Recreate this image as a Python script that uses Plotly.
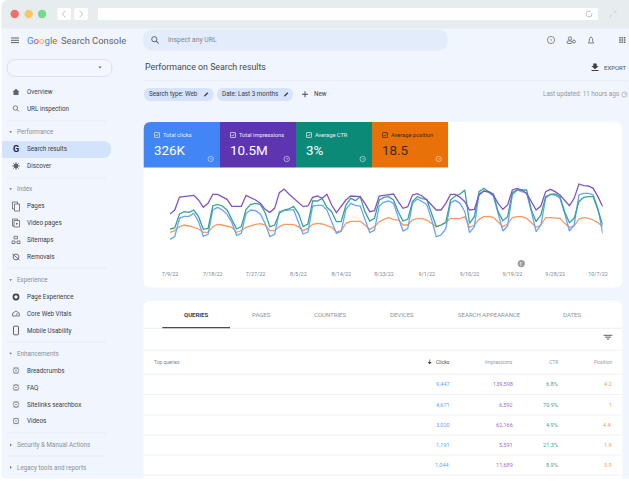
import plotly.graph_objects as go
import pandas as pd

W, H = 629, 481

# ---------- data (indexed daily values) ----------
start_date = "2022-07-09"
clicks = [22,30,85,91,91,100,75, 31,37,110,118,110,97,73, 34,40,100,110,108,98,70,
          30,37,105,108,109,111,73, 38,44,122,124,124,110,75, 40,46,112,130,124,122,80,
          42,49,122,134,137,130,90, 47,54,130,143,134,127,82, 30,35,54,132,139,130,105,
          42,60,158,167,163,152,100, 47,62,155,170,165,160,105, 45,65,145,157,155,145,100,
          47,65,155,160,160,155,115,40]
impressions = [98,110,149,150,152,154,140, 118,130,157,157,150,142,121, 121,121,154,148,140,130,112,
               103,115,162,173,158,145,130, 120,122,148,152,145,157,125, 102,120,140,152,152,150,130,
               105,108,152,154,156,158,135, 115,120,155,159,152,140,125, 110,110,130,157,157,148,135,
               110,112,155,167,165,155,130, 112,125,170,175,170,160,135, 110,122,165,172,165,155,140,
               123,145,188,183,182,175,150,120]
ctr = [53,56,98,105,103,110,90, 52,55,122,127,122,110,80, 53,60,112,127,130,127,102,
       60,65,100,110,113,121,100, 60,68,137,137,145,118,105, 75,75,125,145,138,150,105,
       77,85,140,148,150,140,105, 77,82,135,150,144,142,100, 60,65,73,140,152,158,170,
       70,90,165,175,165,158,105, 78,90,162,170,170,170,110, 75,95,150,157,158,150,105,
       72,85,135,148,150,150,110,65]
position = [43,48,60,65,62,58,53, 43,43,60,67,65,61,58, 43,48,58,63,67,69,65,
            48,48,60,67,67,66,60, 48,55,67,70,68,63,58, 44,48,70,76,76,76,65,
            52,60,75,82,87,81,80, 65,65,80,85,84,80,70, 60,65,72,85,85,84,90,
            58,65,82,90,91,88,75, 60,68,87,90,90,85,72, 58,65,87,87,87,85,70,
            58,62,83,87,85,80,72,60]
tick_dates = ["2022-07-09","2022-07-18","2022-07-27","2022-08-05","2022-08-14","2022-08-23",
              "2022-09-01","2022-09-10","2022-09-19","2022-09-28","2022-10-07"]
tick_labels = ["7/9/22","7/18/22","7/27/22","8/5/22","8/14/22","8/23/22",
               "9/1/22","9/10/22","9/19/22","9/28/22","10/7/22"]

kpi_names = ["Total clicks","Total impressions","Average CTR","Average position"]
kpi_values = ["326K","10.5M","3%","18.5"]
tabs = ["QUERIES","PAGES","COUNTRIES","DEVICES","SEARCH APPEARANCE","DATES"]
table_clicks = ["9,447","4,671","3,020","1,191","1,044"]
table_impr = ["139,598","6,592","62,166","5,591","11,689"]
table_ctr = ["6.8%","70.9%","4.9%","21.3%","8.9%"]
table_pos = ["4.2","1","4.4","1.9","3.9"]

nav_items = ["Overview","URL inspection","Search results","Discover","Pages","Video pages","Sitemaps",
             "Removals","Page Experience","Core Web Vitals","Mobile Usability","Breadcrumbs","FAQ",
             "Sitelinks searchbox","Videos"]
nav_groups = ["Performance","Index","Experience","Enhancements","Security & Manual Actions","Legacy tools and reports"]

BLUE, PURPLE, TEAL, ORANGE = "#4285F4", "#5E35B1", "#0B8A78", "#E8710A"
L_BLUE, L_PURPLE, L_TEAL, L_ORANGE = "#6AA4F8", "#8055C6", "#3AA391", "#F59A60"
PAGE, CHROME, GREY, DARK = "#F1F5FD", "#E7EDEE", "#5F6368", "#3C4043"
FONT = "Roboto"

# ---------- helpers: coordinates below are page pixels ----------
shapes, notes = [], []
px = lambda x: x / W
py = lambda y: 1 - y / H

def path_shape(d, fill=None, line=None, lw=1, layer="below"):
    shapes.append(dict(type="path", path=d, xref="paper", yref="paper", layer=layer,
                       fillcolor=fill or "rgba(0,0,0,0)",
                       line=dict(color=line or "rgba(0,0,0,0)", width=lw if line else 0)))

def poly(points, fill=None, line=None, lw=1, close=True):
    d = "M" + " L".join(f"{px(x):.5f},{py(y):.5f}" for x, y in points) + (" Z" if close else "")
    path_shape(d, fill, line, lw)

def rrect(x0, y0, x1, y1, fill=None, r=(0, 0, 0, 0), line=None, lw=1):
    if not isinstance(r, tuple):
        r = (r, r, r, r)
    tl, tr, br, bl = r
    P = lambda x, y: f"{px(x):.5f},{py(y):.5f}"
    d = (f"M{P(x0 + tl, y0)} L{P(x1 - tr, y0)} Q{P(x1, y0)} {P(x1, y0 + tr)} "
         f"L{P(x1, y1 - br)} Q{P(x1, y1)} {P(x1 - br, y1)} L{P(x0 + bl, y1)} "
         f"Q{P(x0, y1)} {P(x0, y1 - bl)} L{P(x0, y0 + tl)} Q{P(x0, y0)} {P(x0 + tl, y0)} Z")
    path_shape(d, fill, line, lw)

def circle(cx, cy, r, fill=None, line=None, lw=1):
    shapes.append(dict(type="circle", xref="paper", yref="paper", layer="below",
                       x0=px(cx - r), x1=px(cx + r), y0=py(cy + r), y1=py(cy - r),
                       fillcolor=fill or "rgba(0,0,0,0)",
                       line=dict(color=line or "rgba(0,0,0,0)", width=lw if line else 0)))

def seg(x0, y0, x1, y1, color="#E3E7EC", lw=1):
    poly([(x0, y0), (x1, y1)], line=color, lw=lw, close=False)

def text(x, y, s, size=6.5, color=DARK, anchor="left", weight=None):
    t = f"<b>{s}</b>" if weight else s
    notes.append(dict(x=px(x), y=py(y), xref="paper", yref="paper", text=t, showarrow=False,
                      xanchor=anchor, yanchor="middle", borderpad=0, borderwidth=0,
                      font=dict(family=FONT, size=size, color=color)))

def help_icon(cx, cy, color, r=2.7):
    circle(cx, cy, r, line=color, lw=0.7)
    text(cx, cy, "?", 4, color, "center")

def checkbox(cx, cy, color):
    rrect(cx - 2.5, cy - 2.5, cx + 2.5, cy + 2.5, line=color, lw=0.7, r=0.5)
    poly([(cx - 1.4, cy), (cx - 0.4, cy + 1.1), (cx + 1.5, cy - 1.3)], line=color, lw=0.7, close=False)

# ---------- window ----------
rrect(1.5, 0, 629, 478.5, PAGE, r=(7, 0, 0, 4))
rrect(1.5, 0, 629, 28.5, CHROME, r=(7, 0, 0, 0))
for cx, col in ((14.7, "#F26D6D"), (28.7, "#F8C765"), (42, "#74D88F")):
    circle(cx, 14, 4.2, col)
rrect(57.5, 8, 71, 20, "#FFFFFF", r=1.5)
rrect(74, 8, 88, 20, "#FFFFFF", r=1.5)
poly([(65.5, 10.5), (62.3, 14), (65.5, 17.5)], line="#BFC5C9", lw=1, close=False)
poly([(79.5, 10.5), (82.7, 14), (79.5, 17.5)], line="#BFC5C9", lw=1, close=False)
rrect(98, 8, 598, 20, "#FFFFFF", r=1)
circle(589, 14, 3, line="#B9BEC2", lw=0.9)
rrect(591, 10.5, 593.5, 13, "#FFFFFF")
seg(609.5, 17, 612, 14.8, "#C3CACC", 1)
seg(614, 13, 616.5, 10.5, "#C3CACC", 1)

# ---------- top bar ----------
for y in (38, 40.3, 42.6):
    seg(11, y, 19, y, GREY, 1)
text(26.5, 41, '<span style="color:#4285F4">G</span><span style="color:#EA4335">o</span>'
     '<span style="color:#FBBC05">o</span><span style="color:#4285F4">g</span>'
     '<span style="color:#34A853">l</span><span style="color:#EA4335">e</span>', 9.6)
text(60.5, 41, "Search Console", 9.4, GREY)
rrect(143, 29.5, 448, 50.5, "#E3ECFB", r=10)
circle(154.3, 39.2, 2.6, line=GREY, lw=1)
seg(156.2, 41.2, 158.6, 43.4, GREY, 1.1)
text(167.5, 40.3, "Inspect any URL", 6.8, "#80868B")
help_icon(551, 40, GREY, 3.6)
circle(570, 38.5, 1.7, line=GREY, lw=0.8)
rrect(567, 41, 572, 43.5, line=GREY, lw=0.8, r=1)
circle(574, 41.5, 1.4, line=GREY, lw=0.8)
poly([(588.3, 43), (593.7, 43), (592.7, 41.5), (592.7, 38.8), (591, 36.8), (589.4, 38.8), (589.3, 41.5)],
     line=GREY, lw=0.8)
for gx in (620, 622.3, 624.6):
    for gy in (37.7, 40, 42.3):
        rrect(gx - 0.75, gy - 0.75, gx + 0.75, gy + 0.75, GREY)

# ---------- sidebar ----------
rrect(7, 59.5, 112, 76.5, "#F3F6FC", r=8.5, line="#D5D9DF", lw=0.8)
poly([(98.5, 66.5), (101.5, 66.5), (100, 68.6)], GREY)
rrect(2, 141, 111, 158, "#D3E3FC", r=(0, 8.5, 8.5, 0))
nav_y = [92, 109, 149, 166, 206, 223, 240, 257, 297, 314, 330.5, 370.5, 387.5, 404.5, 421]
for name, y in zip(nav_items, nav_y):
    text(27, y, name, 6.3, DARK)
group_y = [132, 189, 280, 353.5, 445, 467.5]
for i, (name, y) in enumerate(zip(nav_groups, group_y)):
    text(17, y, name, 6.3, "#8A9096")
    if i < 4:
        poly([(9.3, y - 0.8), (12, y - 0.8), (10.6, y + 1)], "#666B70")
    else:
        poly([(10, y - 1.4), (10, y + 1.2), (11.8, y)], "#666B70")
for y in (121, 178, 268, 342, 433, 456):
    seg(7, y, 106, y, "#E4E8EE", 0.8)
# nav icons
poly([(12.5, 92), (16, 88.8), (19.5, 92), (18.5, 92), (18.5, 95), (13.5, 95), (13.5, 92)], GREY)
circle(15.4, 108, 2.2, line=GREY, lw=0.8)
seg(17, 109.6, 18.8, 111.4, GREY, 0.9)
text(16, 149.3, "G", 9, "#202124", "center", weight=True)
circle(16, 166, 2.4, GREY)
for a, b, c, d in ((16, 162, 16, 170), (12, 166, 20, 166), (13.2, 163.2, 18.8, 168.8), (13.2, 168.8, 18.8, 163.2)):
    seg(a, b, c, d, GREY, 0.7)
rrect(12.5, 202, 17.5, 209, line=GREY, lw=0.8)
rrect(14.5, 204, 19.5, 211, "#F1F5FD", line=GREY, lw=0.8)
rrect(12.5, 219, 17.5, 226, line=GREY, lw=0.8)
rrect(14, 220.5, 19.5, 227, "#F1F5FD", line=GREY, lw=0.8)
poly([(16, 222.4), (18, 223.7), (16, 225)], GREY)
rrect(14, 236.3, 17.5, 238.8, line=GREY, lw=0.8)
rrect(12, 241, 15, 243.5, line=GREY, lw=0.8)
rrect(17, 241, 20, 243.5, line=GREY, lw=0.8)
circle(16, 257, 2.9, line=GREY, lw=0.9)
seg(12.4, 254, 19.6, 260, GREY, 0.9)
circle(16, 297, 2.6, line="#3C4043", lw=1.6)
poly([(12.5, 316), (12.8, 313), (16, 311), (19.2, 313), (19.5, 316)], line=GREY, lw=0.8)
seg(16, 315.5, 17.6, 313, GREY, 0.8)
rrect(13.5, 326.2, 18.5, 334.8, line=GREY, lw=1, r=0.8)
for y in (370.5, 387.5, 404.5, 421):
    circle(16, y, 2.7, line="#7A7F84", lw=0.8)
    seg(13, y - 2.6, 19, y - 2.6, "#7A7F84", 0.5)
    seg(13, y + 2.6, 19, y + 2.6, "#7A7F84", 0.5)
    circle(16, y, 0.8, "#7A7F84")

# ---------- page header ----------
text(145, 67.3, "Performance on Search results", 8.8, "#45494E")
seg(143.5, 80.7, 628, 80.7, "#E4E8EE", 0.8)
poly([(593.3, 63.5), (596.7, 63.5), (596.7, 66), (598.6, 66), (595, 69.2), (591.4, 66), (593.3, 66)], "#3C4043")
rrect(591.5, 70, 598.5, 71, "#3C4043")
text(604, 67.3, "EXPORT", 6, "#50555A")
rrect(144, 88, 213.5, 101, "#D5E3FB", r=6.5)
rrect(217, 88, 293, 101, "#D5E3FB", r=6.5)
text(148.7, 94.5, "Search type: Web", 6.3, DARK)
text(222, 94.5, "Date: Last 3 months", 6.3, DARK)
seg(204.4, 96.3, 207.8, 92.8, DARK, 1.3)
seg(284.4, 96.3, 287.8, 92.8, DARK, 1.3)
seg(302, 94.3, 308, 94.3, DARK, 0.9)
seg(305, 91.3, 305, 97.3, DARK, 0.9)
text(314, 94.5, "New", 6.3, DARK)
text(619.5, 94.5, "Last updated: 11 hours ago", 6.3, "#93989D", "right")
help_icon(624.5, 94.5, "#A0A5AA", 2.6)

# ---------- chart card ----------
rrect(143.5, 122, 622.3, 287.5, "#FFFFFF", r=7)
rrect(143.7, 122, 220, 167.5, BLUE, r=(7, 0, 0, 0))
rrect(220, 122, 296, 167.5, PURPLE)
rrect(296, 122, 372, 167.5, TEAL)
rrect(372, 122, 448, 167.5, ORANGE)
kpi_left = [154, 230, 306, 382]
for i, (name, value, x) in enumerate(zip(kpi_names, kpi_values, kpi_left)):
    col = "#FFFFFF" if i < 3 else "#3B2A1A"
    faint = "#E8EEF7" if i < 3 else "#3B2A1A"
    checkbox(x + 3, 135, faint)
    text(x + 8.5, 134.8, name, 5.7, faint)
    text(x - 0.5, 150, value, 13.4, col)
    help_icon(x + 56.7, 159, "#C9D6E4" if i < 3 else "#F6CFA8", 2.7)
circle(521.3, 263.6, 3.6, "#9E9E9E")
text(521.3, 263.7, "!", 5, "#FFFFFF", "center", weight=True)

# ---------- table card ----------
rrect(143.5, 301, 622.3, 478.5, "#FFFFFF", r=(7, 7, 0, 0))
tab_x = [196, 261, 330, 402, 489, 572]
for i, (name, x) in enumerate(zip(tabs, tab_x)):
    text(x, 314.7, name, 6, "#3C4043" if i == 0 else "#8E9398", "center", weight=(i == 0))
seg(143.5, 328.3, 622.3, 328.3, "#E8EAED", 0.8)
rrect(162.3, 327, 230, 328.2, "#4A4D52")
for w, y in ((4.4, 335.3), (2.8, 337.2), (1.2, 339.1)):
    seg(608 - w, y, 608 + w, y, "#4A4D52", 0.9)
for y in (350.3, 374.3, 394.5, 415, 435, 455, 475):
    seg(143.5, y, 622.3, y, "#EDEFF2", 0.9)
text(154, 361.8, "Top queries", 4.9, "#80868B")
text(449.8, 361.8, "Clicks", 5, "#4A4D52", "right")
text(513, 361.8, "Impressions", 5, "#9AA0A6", "right")
text(558, 361.8, "CTR", 5, "#9AA0A6", "right")
text(612.3, 361.8, "Position", 5, "#9AA0A6", "right")
seg(429.7, 359.5, 429.7, 364, "#3C4043", 0.7)
poly([(427.7, 362), (431.7, 362), (429.7, 364.3)], "#3C4043")
row_y = [384.2, 404.7, 425, 445, 465.3]
for y, a, b, c, d in zip(row_y, table_clicks, table_impr, table_ctr, table_pos):
    text(449.8, y, a, 5.6, L_BLUE, "right")
    text(513, y, b, 5.6, "#9C6FD3", "right")
    text(558, y, c, 5.6, "#3FA594", "right")
    text(612.3, y, d, 5.6, "#F29B5C", "right")

# ---------- line chart ----------
days = pd.date_range(start_date, periods=len(clicks), freq="D")
fig = go.Figure()
for name, vals, col in (("Average position", position, L_ORANGE), ("Clicks", clicks, L_BLUE),
                        ("Average CTR", ctr, L_TEAL), ("Impressions", impressions, L_PURPLE)):
    fig.add_trace(go.Scatter(x=days, y=vals, mode="lines", name=name,
                             line=dict(color=col, width=1.3), hoverinfo="skip"))

fig.update_layout(
    width=W, height=H, margin=dict(l=0, r=0, t=0, b=0), autosize=False,
    paper_bgcolor="#FFFFFF", plot_bgcolor="rgba(0,0,0,0)", showlegend=False,
    shapes=shapes, annotations=notes,
    xaxis=dict(domain=[px(170), px(602.7)], range=[days[0], days[-1]], type="date",
               showgrid=False, zeroline=False, showline=False, ticks="",
               tickmode="array", tickvals=tick_dates, ticktext=tick_labels,
               tickangle=0, automargin=False,
               tickfont=dict(family=FONT, size=5.4, color="#80868B")),
    yaxis=dict(domain=[py(270), py(170)], range=[-70, 230], visible=False),
)
fig.write_html("out.html", config=dict(displayModeBar=False),
               post_script="document.body.style.margin='0';document.body.style.background='#fff';")
